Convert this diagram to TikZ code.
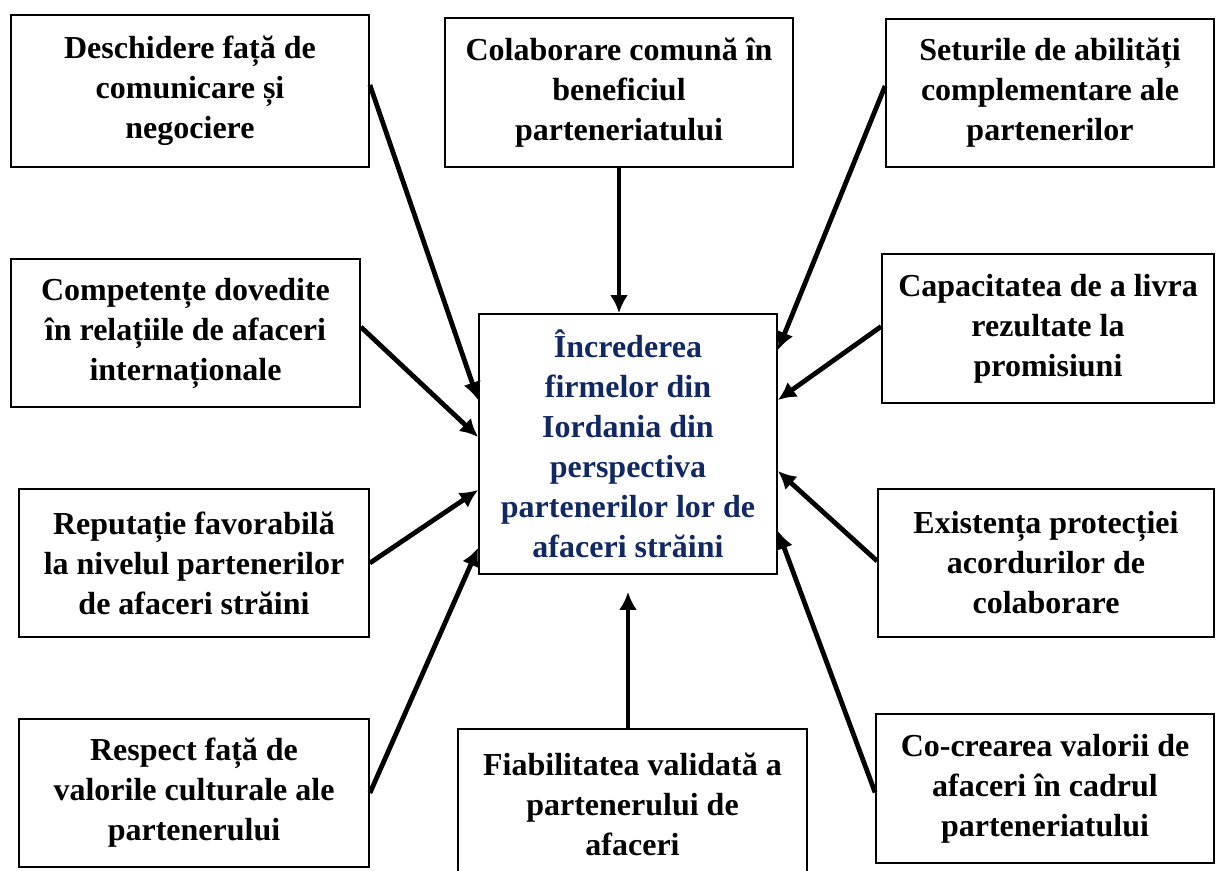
\documentclass[tikz,border=0pt]{standalone}
\usepackage{fontspec}
\setmainfont{Liberation Serif}
\usepackage{tikz}
\usetikzlibrary{arrows.meta,positioning}
\definecolor{navytext}{RGB}{16,40,100}

\begin{document}
\begin{tikzpicture}[x=0.5pt,y=-0.5pt,
    box/.style={rectangle, draw, line width=0.9pt, inner sep=0pt, align=center,
      font=\fontsize{16}{20}\selectfont\bfseries},
    arr/.style={-{Latex[length=9pt 0 0,width=9pt 0 0]}, line width=2.4pt}]
      \useasboundingbox (0,0) rectangle (1220,871);
      \clip (0,0) rectangle (1220,871);
      \node[box, minimum width=179pt, minimum height=76pt] at (190,91) (comm) {Deschidere față de\\comunicare și\\negociere};
      \node[box, minimum width=174pt, minimum height=74.5pt] at (619,92.5) (colab) {Colaborare comună în\\beneficiul\\parteneriatului};
      \node[box, minimum width=164pt, minimum height=74pt] at (1050,93) (skills) {Seturile de abilități\\complementare ale\\partenerilor};
      \node[box, minimum width=174.5pt, minimum height=74pt] at (185.5,333) (compet) {Competențe dovedite\\în relațiile de afaceri\\internaționale};
      \node[box, minimum width=166pt, minimum height=74.5pt] at (1048,328.5) (deliv) {Capacitatea de a livra\\rezultate la\\promisiuni};
      \node[box, minimum width=149pt, minimum height=130pt, text=navytext] at (628,444) (trust) {Încrederea\\firmelor din\\Iordania din\\perspectiva\\partenerilor lor de\\afaceri străini};
      \node[box, minimum width=175pt, minimum height=74pt] at (194,563) (reput) {Reputație favorabilă\\la nivelul partenerilor\\de afaceri străini};
      \node[box, minimum width=168pt, minimum height=74pt] at (1046,563) (protect) {Existența protecției\\acordurilor de\\colaborare};
      \node[box, minimum width=175pt, minimum height=74pt] at (194,793) (respect) {Respect față de\\valorile culturale ale\\partenerului};
      \node[box, minimum width=174.5pt, minimum height=75pt] at (632.5,804) (reliab) {Fiabilitatea validată a\\partenerului de\\afaceri};
      \node[box, minimum width=169pt, minimum height=74.5pt] at (1045,788.5) (cocreate) {Co-crearea valorii de\\afaceri în cadrul\\parteneriatului};
      \draw[arr] ([yshift=3pt]comm.east) -- ([yshift=22pt]trust.west);
      \draw[arr] (colab.south) -- (colab.south |- trust.north);
      \draw[arr] ([yshift=3.5pt]skills.west) -- ([yshift=47pt]trust.east);
      \draw[arr] ([yshift=3pt]compet.east) -- ([yshift=3.5pt]trust.west);
      \draw[arr] ([yshift=1pt]deliv.west) -- ([yshift=22pt]trust.east);
      \draw[arr] (reput.east) -- ([yshift=-23pt]trust.west);
      \draw[arr] ([yshift=1pt]protect.west) -- ([yshift=-13.5pt]trust.east);
      \draw[arr] (respect.east) -- ([yshift=-52pt]trust.west);
      \draw[arr] (reliab.north -| trust.south) -- ([yshift=-8.5pt]trust.south);
      \draw[arr] ([yshift=-2pt]cocreate.west) -- ([yshift=-43.5pt]trust.east);
\end{tikzpicture}
\end{document}
